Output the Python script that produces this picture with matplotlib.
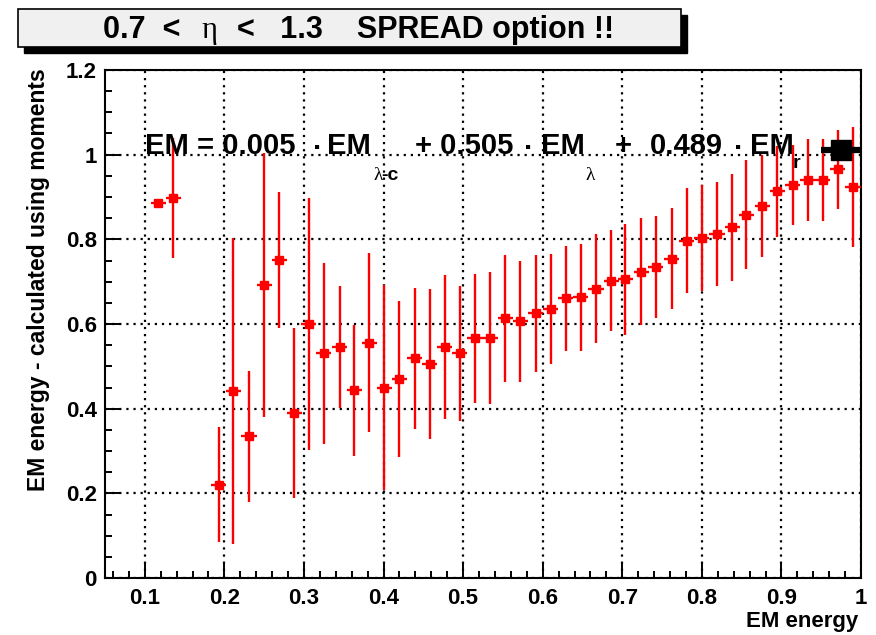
import matplotlib
matplotlib.use("Agg")
import matplotlib.pyplot as plt
from matplotlib.patches import Rectangle
from matplotlib.ticker import FixedLocator, MultipleLocator

plt.rcParams['font.family'] = ['Liberation Sans', 'DejaVu Sans']

# profile of EM energy - calculated, per EM energy bin
em_energy = [0.117, 0.136, 0.193, 0.211, 0.231, 0.250, 0.269, 0.288, 0.306, 0.325,
             0.345, 0.363, 0.382, 0.401, 0.420, 0.439, 0.458, 0.477, 0.496, 0.515,
             0.534, 0.553, 0.572, 0.591, 0.610, 0.629, 0.648, 0.667, 0.686, 0.704,
             0.724, 0.742, 0.762, 0.781, 0.800, 0.819, 0.838, 0.856, 0.876, 0.895,
             0.914, 0.933, 0.952, 0.971, 0.990]
em_ratio = [0.885, 0.897, 0.220, 0.442, 0.335, 0.692, 0.751, 0.389, 0.600, 0.531,
            0.546, 0.443, 0.556, 0.450, 0.470, 0.519, 0.506, 0.545, 0.531, 0.566,
            0.566, 0.613, 0.607, 0.625, 0.635, 0.661, 0.663, 0.683, 0.702, 0.706,
            0.724, 0.734, 0.754, 0.797, 0.803, 0.813, 0.828, 0.858, 0.879, 0.913,
            0.928, 0.940, 0.940, 0.965, 0.924]
em_ratio_err = [0.005, 0.142, 0.136, 0.361, 0.155, 0.312, 0.160, 0.201, 0.297, 0.214,
                0.144, 0.154, 0.212, 0.241, 0.185, 0.167, 0.177, 0.170, 0.159, 0.152,
                0.156, 0.149, 0.143, 0.138, 0.130, 0.124, 0.126, 0.129, 0.119, 0.131,
                0.127, 0.121, 0.119, 0.124, 0.125, 0.123, 0.127, 0.129, 0.120, 0.107,
                0.094, 0.096, 0.096, 0.094, 0.142]
bin_half_width = 0.0095

# single reference point (sum of weights)
ref_x = [0.975]
ref_y = [1.01]
ref_xerr = [0.025]

xticks = [0.1, 0.2, 0.3, 0.4, 0.5, 0.6, 0.7, 0.8, 0.9, 1.0]
xtick_labels = ["0.1", "0.2", "0.3", "0.4", "0.5", "0.6", "0.7", "0.8", "0.9", "1"]
yticks = [0.0, 0.2, 0.4, 0.6, 0.8, 1.0, 1.2]
ytick_labels = ["0", "0.2", "0.4", "0.6", "0.8", "1", "1.2"]

W, H = 876, 635
fig = plt.figure(figsize=(W / 100, H / 100), dpi=100)
ax = fig.add_axes([105 / W, 1 - 578 / H, (861 - 105) / W, (578 - 70) / H])


def px(x, y):
    # pixel position (from top-left) to figure fraction
    return x / W, 1 - y / H


ax.errorbar(em_energy, em_ratio, yerr=em_ratio_err, xerr=bin_half_width,
            fmt='s', color='red', ms=6, elinewidth=1.7, capsize=0, zorder=3)
ax.errorbar(ref_x, ref_y, xerr=ref_xerr, fmt='s', color='black', ms=15,
            elinewidth=4.5, capsize=0, zorder=4, clip_on=False)

ax.set_xlim(0.05, 1.0)
ax.set_ylim(0, 1.2)
ax.xaxis.set_major_locator(FixedLocator(xticks))
ax.set_xticklabels(xtick_labels)
ax.yaxis.set_major_locator(FixedLocator(yticks))
ax.set_yticklabels(ytick_labels)
ax.xaxis.set_minor_locator(MultipleLocator(0.02))
ax.yaxis.set_minor_locator(MultipleLocator(0.05))
ax.tick_params(which='both', direction='in', top=False, right=False, width=1.4)
ax.tick_params(which='major', length=11, labelsize=16, pad=7)
ax.tick_params(axis='y', which='major', pad=6)
ax.tick_params(which='minor', length=5)
for lab in ax.get_xticklabels() + ax.get_yticklabels():
    lab.set_fontweight('bold')
for sp in ax.spines.values():
    sp.set_linewidth(1.5)
ax.grid(True, which='major', color='black', linestyle=(0, (1, 2.2)), linewidth=1.6)
ax.set_axisbelow(True)

# axis titles, ROOT style (aligned to the axis ends)
fig.text(*px(39, 68), "EM energy - calculated using moments", rotation=90,
         ha='center', va='top', fontsize=16.5, fontweight='bold')
fig.text(*px(858, 621), "EM energy", ha='right', va='center',
         fontsize=16, fontweight='bold')

# fit result written across the plot
eq_size = 21
sub_size = 14
base = 154
pieces = [
    (145, base, "EM = 0.005", eq_size, 'bold'),
    (313, 157, "\u00b7", eq_size, 'bold'),
    (327, base, "EM", eq_size, 'bold'),
    (415, base, "+ 0.505", eq_size, 'bold'),
    (524, 157, "\u00b7", eq_size, 'bold'),
    (541, base, "EM", eq_size, 'bold'),
    (615, base, "+", eq_size, 'bold'),
    (650, base, "0.489", eq_size, 'bold'),
    (734, 157, "\u00b7", eq_size, 'bold'),
    (750, base, "EM", eq_size, 'bold'),
    (793, 168, "r", sub_size, 'bold'),
]
for x, y, s, size, weight in pieces:
    fig.text(*px(x, y), s, ha='left', va='baseline', fontsize=size,
             fontweight=weight, zorder=5)
fig.text(*px(373, 180), "\u03bb", ha='left', va='baseline', fontsize=sub_size,
         family='Liberation Serif', zorder=5)
fig.text(*px(381, 180), "-c", ha='left', va='baseline', fontsize=sub_size,
         fontweight='bold', zorder=5)
fig.text(*px(585, 180), "\u03bb", ha='left', va='baseline', fontsize=sub_size,
         family='Liberation Serif', zorder=5)

# title box with drop shadow
x0, y0 = px(18, 47)
bw, bh = (681 - 18) / W, (47 - 9) / H
fig.patches.append(Rectangle((x0 + 6 / W, y0 - 6 / H), bw, bh,
                             transform=fig.transFigure, facecolor='black',
                             edgecolor='black', zorder=1))
fig.patches.append(Rectangle((x0, y0), bw, bh, transform=fig.transFigure,
                             facecolor='#f0f0f0', edgecolor='black',
                             linewidth=1.2, zorder=2))
title_y = 38
fig.text(*px(103, title_y), "0.7  <", ha='left', va='baseline', fontsize=22,
         fontweight='bold', zorder=6)
fig.text(*px(201, title_y), "\u03b7", ha='left', va='baseline', fontsize=22,
         family='Liberation Serif', zorder=6)
fig.text(*px(237, title_y), "<   1.3    SPREAD option !!", ha='left',
         va='baseline', fontsize=22, fontweight='bold', zorder=6)

fig.savefig("out.png", dpi=100)
